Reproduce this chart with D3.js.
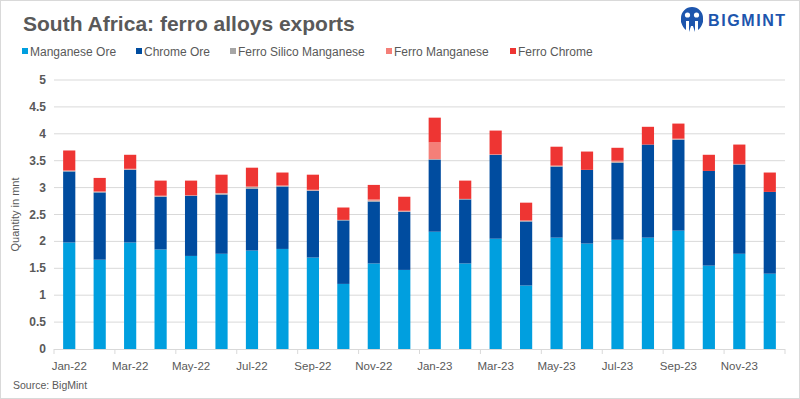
<!DOCTYPE html>
<html>
<head>
<meta charset="utf-8">
<script src="https://cdn.jsdelivr.net/npm/d3@7"></script>
<style>
  body { margin: 0; background: #fff; }
  svg { display: block; font-family: "Liberation Sans", Arial, sans-serif; }
</style>
</head>
<body>
<div class="container"></div>
<script>
// months Jan-22 .. Dec-23
const months = ['Jan-22','Feb-22','Mar-22','Apr-22','May-22','Jun-22','Jul-22','Aug-22','Sep-22','Oct-22','Nov-22','Dec-22',
                'Jan-23','Feb-23','Mar-23','Apr-23','May-23','Jun-23','Jul-23','Aug-23','Sep-23','Oct-23','Nov-23','Dec-23'];
const manganeseOre = [1.98,1.66,1.98,1.85,1.73,1.77,1.83,1.86,1.70,1.21,1.59,1.47,2.18,1.59,2.05,1.18,2.07,1.96,2.03,2.07,2.20,1.55,1.77,1.40];
const chromeOre = [1.32,1.25,1.35,0.98,1.12,1.10,1.15,1.16,1.24,1.18,1.15,1.08,1.34,1.19,1.56,1.19,1.32,1.37,1.43,1.73,1.69,1.76,1.66,1.52];
const ferroSilicoMn = [0.01,0.01,0.01,0.01,0.00,0.02,0.03,0.01,0.01,0.01,0.02,0.01,0.01,0.01,0.00,0.01,0.01,0.00,0.02,0.00,0.01,0.00,0.00,0.00];
const ferroMn = [0.01,0.01,0.01,0.01,0.01,0.01,0.01,0.01,0.01,0.00,0.02,0.01,0.31,0.00,0.01,0.01,0.01,0.00,0.02,0.00,0.01,0.00,0.01,0.00];
const ferroChrome = [0.37,0.25,0.26,0.28,0.27,0.34,0.35,0.24,0.28,0.23,0.27,0.26,0.46,0.34,0.44,0.33,0.35,0.34,0.24,0.33,0.28,0.30,0.36,0.36];
const seriesNames = ['Manganese Ore','Chrome Ore','Ferro Silico Manganese','Ferro Manganese','Ferro Chrome'];
const colors = ['#009fdf','#004c9f','#a6a6a6','#f47f78','#ee3533'];
const yTicks = [0,0.5,1,1.5,2,2.5,3,3.5,4,4.5,5];

const width = 800, height = 399;
const margin = {left: 54, right: 15, top: 80, bottom: 50};

const rows = months.map((m, i) => ({
  month: m,
  'Manganese Ore': manganeseOre[i],
  'Chrome Ore': chromeOre[i],
  'Ferro Silico Manganese': ferroSilicoMn[i],
  'Ferro Manganese': ferroMn[i],
  'Ferro Chrome': ferroChrome[i]
}));

const stacked = d3.stack().keys(seriesNames)(rows);

const svg = d3.select('.container').append('svg')
  .attr('width', width).attr('height', height);

svg.append('rect').attr('x', 0.5).attr('y', 0.5)
  .attr('width', width - 1).attr('height', height - 1)
  .attr('fill', '#fff').attr('stroke', '#d9d9d9');

const x = d3.scaleBand().domain(months)
  .range([margin.left, width - margin.right]).paddingInner(0.6).paddingOuter(0.3);
const y = d3.scaleLinear().domain([0, 5]).range([height - margin.bottom, margin.top]);

// gridlines
svg.append('g').selectAll('line').data(yTicks.slice(1)).join('line')
  .attr('x1', margin.left).attr('x2', width - margin.right)
  .attr('y1', d => y(d)).attr('y2', d => y(d))
  .attr('stroke', '#d9d9d9').attr('stroke-width', 1);

// y labels
svg.append('g').selectAll('text').data(yTicks).join('text')
  .attr('x', 46).attr('y', d => y(d) + 4)
  .attr('text-anchor', 'end')
  .attr('font-size', 12).attr('font-weight', 'bold')
  .attr('fill', '#595959')
  .text(d => d);

svg.append('text')
  .attr('transform', `translate(19,${(y(0) + y(5)) / 2}) rotate(-90)`)
  .attr('text-anchor', 'middle')
  .attr('font-size', 11).attr('fill', '#595959')
  .text('Quantity in mnt');

// bars
svg.append('g').selectAll('g').data(stacked).join('g')
  .attr('fill', (d, i) => colors[i])
  .selectAll('rect').data(d => d).join('rect')
  .attr('x', d => x(d.data.month))
  .attr('width', x.bandwidth())
  .attr('y', d => y(d[1]))
  .attr('height', d => y(d[0]) - y(d[1]));

// x axis
const step = (width - margin.right - margin.left) / months.length;
svg.append('line')
  .attr('x1', margin.left).attr('x2', width - margin.right)
  .attr('y1', y(0) + 0.5).attr('y2', y(0) + 0.5)
  .attr('stroke', '#d9d9d9');
const tickPos = d3.range(0, months.length + 1, 2);
svg.append('g').selectAll('line').data(tickPos).join('line')
  .attr('x1', d => margin.left + d * step).attr('x2', d => margin.left + d * step)
  .attr('y1', y(0)).attr('y2', y(0) + 5)
  .attr('stroke', '#d9d9d9');
svg.append('g').selectAll('text').data(months.filter((m, i) => i % 2 === 0)).join('text')
  .attr('x', d => x(d) + x.bandwidth() / 2)
  .attr('y', y(0) + 21)
  .attr('text-anchor', 'middle')
  .attr('font-size', 11.5).attr('fill', '#595959')
  .text(d => d);

// title
svg.append('text').attr('x', 23).attr('y', 31)
  .attr('font-size', 21).attr('font-weight', 'bold').attr('fill', '#595959')
  .text('South Africa: ferro alloys exports');

// legend
const legendX = [22, 136, 230, 386, 510];
const legend = svg.append('g').selectAll('g').data(seriesNames).join('g')
  .attr('transform', (d, i) => `translate(${legendX[i]},52)`);
legend.append('rect').attr('x', 0).attr('y', -4).attr('width', 6).attr('height', 6)
  .attr('fill', (d, i) => colors[i]);
legend.append('text').attr('x', 8).attr('y', 4)
  .attr('font-size', 12).attr('fill', '#595959')
  .text(d => d);

// source
svg.append('text').attr('x', 13).attr('y', 389)
  .attr('font-size', 10.5).attr('fill', '#595959')
  .text('Source: BigMint');

// logo
const logo = svg.append('g').attr('transform', 'translate(681,7)');
logo.append('path')
  .attr('d', 'M0,11 A11,11 0 0 1 22,11 L22,15 Q20,21 17,23 L17,14 L14,14 L14,25 L12,19 L10,19 L8,25 L8,14 L5,14 L5,23 Q2,21 0,15 Z')
  .attr('fill', '#1d55ad');
logo.append('circle').attr('cx', 6.5).attr('cy', 8).attr('r', 2.6).attr('fill', '#fff');
logo.append('circle').attr('cx', 15.5).attr('cy', 8).attr('r', 2.6).attr('fill', '#fff');
svg.append('text').attr('x', 708).attr('y', 26)
  .attr('font-size', 16).attr('font-weight', 'bold').attr('fill', '#1d55ad')
  .attr('letter-spacing', 1.6)
  .text('BIGMINT');
</script>
</body>
</html>
